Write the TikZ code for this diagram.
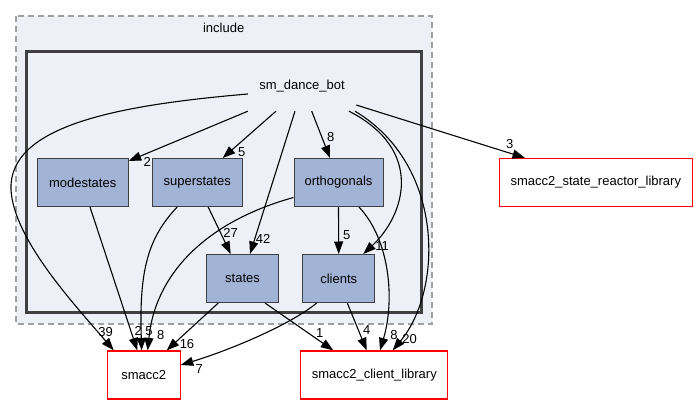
\documentclass[tikz,border=0pt]{standalone}
\usepackage{fontspec}
\setmainfont{Liberation Sans}
\usetikzlibrary{arrows.meta}
\definecolor{dirfill}{HTML}{A2B4D6}
\definecolor{dirline}{HTML}{404040}
\definecolor{clusterfill}{HTML}{EDF0F7}
\definecolor{clusterline}{HTML}{A0A0A0}

\begin{document}
\begin{tikzpicture}[x=1pt,y=-1pt,
	font=\fontsize{13}{15}\selectfont,
	dir/.style={draw=dirline,fill=dirfill,line width=1pt,minimum height=48pt,inner sep=0pt},
	extdir/.style={draw=red,fill=white,line width=1.2pt,minimum height=48pt,inner sep=0pt},
	dep/.style={line width=1.1pt,-{Triangle[length=12.5pt,width=9pt]}},
	lbl/.style={inner sep=0pt}]

	\useasboundingbox (0,0) rectangle (697,404);

	% Cluster include
	\draw[clusterline,fill=clusterfill,line width=1.3pt,dash pattern=on 6pt off 4pt] (16,16) rectangle (432,324);
	\node (include) at (223.7,27.7) {include};

	% Cluster sm_dance_bot
	\draw[dirline,fill=clusterfill,line width=2.5pt] (26.3,51.7) rectangle (421.7,312.7);
	\node[minimum width=108pt,minimum height=49pt,inner sep=0pt] (dancebot) at (302,86.5) {sm\_dance\_bot};

	% Sub directories
	\node[dir,minimum width=91pt] (modestates) at (82.7,182.5) {modestates};
	\node[dir,minimum width=90pt] (superstates) at (197.2,182.5) {superstates};
	\node[dir,minimum width=89pt] (orthogonals) at (338.5,182.5) {orthogonals};
	\node[dir,minimum width=72pt] (states) at (242.5,278.5) {states};
	\node[dir,minimum width=72pt] (clients) at (338.7,278.5) {clients};

	% External directories
	\node[extdir,minimum width=73pt] (smacc2) at (143.7,375) {smacc2};
	\node[extdir,minimum width=147pt] (clientlib) at (374.3,375) {smacc2\_client\_library};
	\node[extdir,minimum width=193pt] (reactorlib) at (595.8,182.5) {smacc2\_state\_reactor\_library};

	% Dependencies of sm_dance_bot
	\draw[dep] ([yshift=-7.5pt]dancebot.west) .. controls (120,105) and (8,125) .. (11,190)
		.. controls (14,240) and (75,305) .. ([xshift=-30pt]smacc2.north);
	\draw[dep] (dancebot.south west) -- ([yshift=-3pt]modestates.north east);
	\draw[dep] ([xshift=-26pt]dancebot.south) -- ([xshift=25.5pt]superstates.north);
	\draw[dep] ([xshift=-7pt]dancebot.south) -- ([xshift=7.5pt]states.north);
	\draw[dep] ([xshift=9.7pt]dancebot.south) -- ([xshift=-8.5pt]orthogonals.north);
	\draw[dep] ([xshift=47pt]dancebot.south) .. controls (425,150) and (405,215) .. ([xshift=24.6pt]clients.north);
	\draw[dep] ([xshift=53pt]dancebot.south) .. controls (445,165) and (443,290) .. ([xshift=18.4pt]clientlib.north);
	\draw[dep] ([yshift=-18.5pt]dancebot.east) -- ([xshift=-70.8pt]reactorlib.north);

	% Dependencies of the sub directories
	\draw[dep] ([xshift=7.3pt]modestates.south) -- ([xshift=-6.4pt]smacc2.north);
	\draw[dep] ([xshift=-20pt]superstates.south) .. controls (148,238) and (139,270) .. ([xshift=-2pt]smacc2.north);
	\draw[dep] ([xshift=11pt]superstates.south) -- ([xshift=-11.8pt]states.north);
	\draw[dep] ([yshift=-15pt]orthogonals.west) .. controls (205,222) and (155,275) .. ([xshift=4pt]smacc2.north);
	\draw[dep] (orthogonals.south) -- (clients.north);
	\draw[dep] ([xshift=20.5pt]orthogonals.south) .. controls (390,240) and (395,300) .. ([xshift=5.7pt]clientlib.north);
	\draw[dep] ([xshift=-24.2pt]states.south) -- ([xshift=23pt]smacc2.north);
	\draw[dep] ([xshift=22.5pt]states.south) -- ([xshift=-41pt]clientlib.north);
	\draw[dep] ([xshift=-22pt]clients.south) .. controls (290,325) and (230,350) .. ([yshift=10pt]smacc2.east);
	\draw[dep] ([xshift=8.6pt]clients.south) -- ([xshift=-7.6pt]clientlib.north);

	% Edge counts
	\node[lbl] (n39) at (105.7,331.7) {39};
	\node[lbl] (n2a) at (147.3,162.3) {2};
	\node[lbl] (n5a) at (241.7,151.7) {5};
	\node[lbl] (n8a) at (330.7,137.5) {8};
	\node[lbl] (n42) at (263,239) {42};
	\node[lbl] (n27) at (230.7,233.3) {27};
	\node[lbl] (n5b) at (346.7,235.3) {5};
	\node[lbl] (n11) at (382,246) {11};
	\node[lbl] (n2b) at (138.3,330.8) {2};
	\node[lbl] (n5c) at (149,330.8) {5};
	\node[lbl] (n8b) at (160.7,334.7) {8};
	\node[lbl] (n16) at (187,343.8) {16};
	\node[lbl] (n7) at (199.3,368.8) {7};
	\node[lbl] (n1) at (319.7,333.3) {1};
	\node[lbl] (n4) at (366.7,330.3) {4};
	\node[lbl] (n8c) at (394,334.7) {8};
	\node[lbl] (n20) at (409.7,339) {20};
	\node[lbl] (n3) at (509.7,144) {3};

\end{tikzpicture}
\end{document}
